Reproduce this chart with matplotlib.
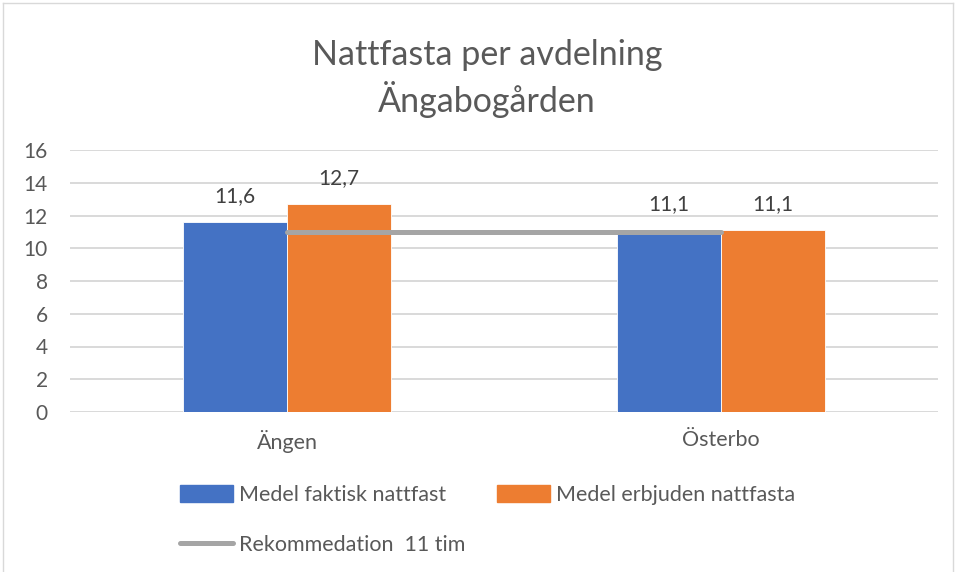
import matplotlib
matplotlib.use("Agg")
import matplotlib.pyplot as plt
from matplotlib.lines import Line2D
from matplotlib.patches import Patch
import numpy as np

plt.rcParams['font.family'] = ['Lato', 'DejaVu Sans']

categories = ["Ängen", "Österbo"]
faktisk = [11.6, 11.1]
erbjuden = [12.7, 11.1]
rekommendation = [11, 11]
labels_faktisk = ["11,6", "11,1"]
labels_erbjuden = ["12,7", "11,1"]
yticks = [0, 2, 4, 6, 8, 10, 12, 14, 16]

BLUE = "#4472C4"
ORANGE = "#ED7D31"
GRAY = "#A5A5A5"
TXT = "#595959"

W, H = 957, 572
fig = plt.figure(figsize=(W / 100, H / 100), dpi=100)
ax = fig.add_axes([70 / W, 1 - 412 / H, (938 - 70) / W, (412 - 150) / H])

x = np.arange(len(categories))
bw = 0.24
ax.bar(x - bw / 2, faktisk, bw, color=BLUE, edgecolor="white", linewidth=0.6, zorder=2)
ax.bar(x + bw / 2, erbjuden, bw, color=ORANGE, edgecolor="white", linewidth=0.6, zorder=2)
ax.plot(x, rekommendation, color=GRAY, lw=3.6, solid_capstyle="round", zorder=3)

for xi, v, s in zip(x - bw / 2, faktisk, labels_faktisk):
    ax.annotate(s, (xi, v), xytext=(0, 19), textcoords="offset points",
                ha="center", va="center", fontsize=15, color="#404040")
for xi, v, s in zip(x + bw / 2, erbjuden, labels_erbjuden):
    ax.annotate(s, (xi, v), xytext=(0, 19), textcoords="offset points",
                ha="center", va="center", fontsize=15, color="#404040")

ax.set_xlim(-0.5, 1.5)
ax.set_ylim(0, 16)
ax.set_yticks(yticks)
ax.set_yticklabels([str(t) for t in yticks])
ax.set_xticks(x)
ax.set_xticklabels(categories)
ax.tick_params(axis="y", length=0, pad=16, labelsize=15, labelcolor=TXT)
ax.tick_params(axis="x", length=0, pad=13, labelsize=15.5, labelcolor=TXT)
ax.grid(axis="y", color="#D9D9D9", lw=1.4, zorder=0)
ax.set_axisbelow(True)
for sp in ax.spines.values():
    sp.set_visible(False)

fig.text(487 / W, 1 - 55 / H, "Nattfasta per avdelning", ha="center", va="center",
         fontsize=24.5, color=TXT)
fig.text(487 / W, 1 - 100 / H, "Ängabogården", ha="center", va="center",
         fontsize=24.5, color=TXT)

handles = [Patch(color=BLUE), Line2D([0], [0], color=GRAY, lw=3.6, solid_capstyle="round"),
           Patch(color=ORANGE)]
labels = ["Medel faktisk nattfast", "Rekommedation  11 tim", "Medel erbjuden nattfasta"]
leg = fig.legend(handles, labels, ncol=2, loc="upper left",
                 bbox_to_anchor=(180 / W, 1 - 485 / H), frameon=False,
                 borderpad=0, borderaxespad=0,
                 fontsize=15.5, labelcolor=TXT, handlelength=2.45, handleheight=0.8,
                 handletextpad=0.3, columnspacing=1.45, labelspacing=1.4)

# chart frame
fig.add_artist(plt.Line2D([3 / W, 3 / W], [0, 1 - 3 / H], transform=fig.transFigure, color="#D9D9D9", lw=1))
fig.add_artist(plt.Line2D([3 / W, 953 / W], [1 - 3 / H, 1 - 3 / H], transform=fig.transFigure, color="#D9D9D9", lw=1))
fig.add_artist(plt.Line2D([953 / W, 953 / W], [0, 1 - 3 / H], transform=fig.transFigure, color="#D9D9D9", lw=1))

fig.savefig("out.png", dpi=100)
